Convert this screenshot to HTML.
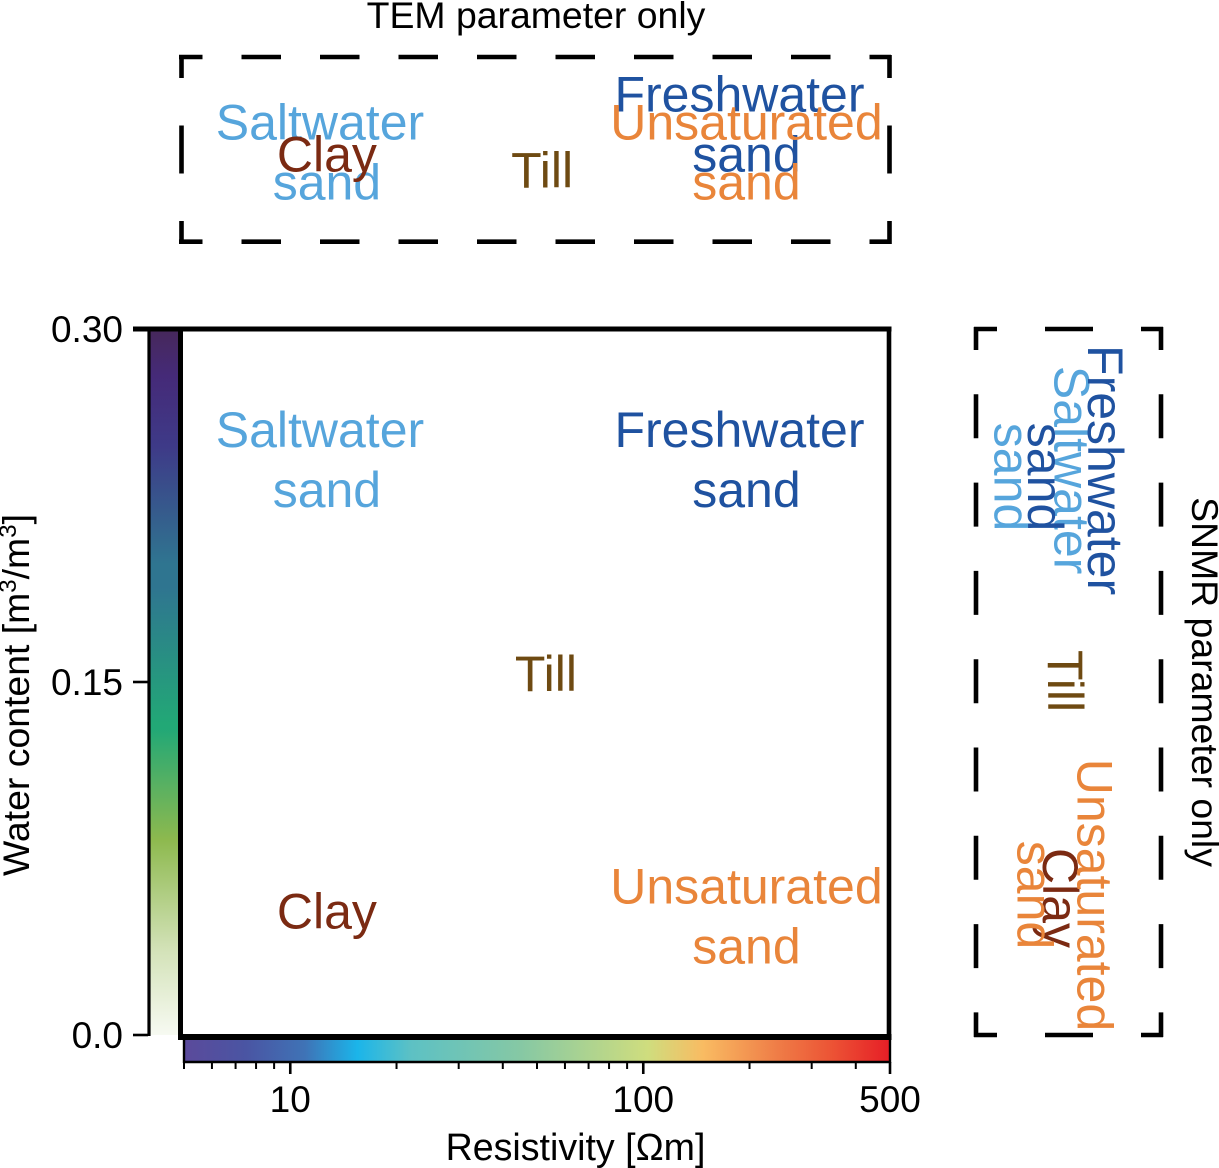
<!DOCTYPE html>
<html>
<head>
<meta charset="utf-8">
<style>
html,body{margin:0;padding:0;background:#fff;}
svg{display:block;}
text{font-family:"Liberation Sans",Arial,sans-serif;white-space:pre;}
</style>
</head>
<body>
<svg id="chart" xmlns="http://www.w3.org/2000/svg" width="1219" height="1168" viewBox="0 0 1219 1168">
  <defs>
    <linearGradient id="resGradient" gradientUnits="userSpaceOnUse"></linearGradient>
    <linearGradient id="waterGradient" gradientUnits="userSpaceOnUse"></linearGradient>
  </defs>
  <rect x="0" y="0" width="1219" height="1168" fill="#fff"/>
  <g id="bars"></g>
  <g id="frame"></g>
  <g id="ticks"></g>
  <g id="labels"></g>
  <g stroke="#000" stroke-width="4.6" fill="none">
    <line x1="179" y1="57" x2="891" y2="57" stroke-dasharray="39.5 39" stroke-dashoffset="16"/>
    <line x1="179" y1="241.7" x2="891" y2="241.7" stroke-dasharray="39.5 39" stroke-dashoffset="16"/>
    <line x1="181.5" y1="55" x2="181.5" y2="244" stroke-dasharray="48 47.5" stroke-dashoffset="25"/>
    <line x1="889.5" y1="55" x2="889.5" y2="244" stroke-dasharray="48 47.5" stroke-dashoffset="25"/>
  </g>
  <g stroke="#000" stroke-width="4.6" fill="none">
    <line x1="974" y1="329" x2="1163" y2="329" stroke-dasharray="48 48" stroke-dashoffset="25"/>
    <line x1="974" y1="1035" x2="1163" y2="1035" stroke-dasharray="48 48" stroke-dashoffset="25"/>
    <line x1="976" y1="327" x2="976" y2="1037" stroke-dasharray="44 44.3" stroke-dashoffset="21"/>
    <line x1="1161" y1="327" x2="1161" y2="1037" stroke-dasharray="44 44.3" stroke-dashoffset="21"/>
  </g>
  <text x="536" y="28" font-size="37.4" text-anchor="middle" fill="#000">TEM parameter only</text>
  <text transform="translate(1192 682) rotate(90)" font-size="37.4" text-anchor="middle" fill="#000">SNMR parameter only</text>
  <text x="575.5" y="1160" font-size="37.6" text-anchor="middle" fill="#000">Resistivity [Ωm]</text>
  <text transform="translate(29 695) rotate(-90)" font-size="37.4" text-anchor="middle" fill="#000">Water content [m<tspan font-size="24" dy="-13">3</tspan><tspan dy="13">/m</tspan><tspan font-size="24" dy="-13">3</tspan><tspan dy="13">]</tspan></text>
</svg>
<script>
// Soil classes and their positions in data space
const categories = ['Saltwater sand', 'Freshwater sand', 'Till', 'Clay', 'Unsaturated sand'];
const lineBreaks = [['Saltwater ', 'sand'], ['Freshwater ', 'sand'], ['Till'], ['Clay'], ['Unsaturated', 'sand']];
const classColors = ['#56a5dc', '#1f52a0', '#6e4a12', '#7b2a12', '#e9853a'];
const resistivity = [12.7, 196, 53, 12.7, 196];
const waterContent = [0.2371, 0.2371, 0.1462, 0.0452, 0.0431];
// Values used in the single-parameter strips
const temResistivity = [12.7, 196, 51.7, 12.7, 196];
const temRow = [0.611, 0.459, 0.708, 0.622, 0.611];
const snmrWater = [0.2371, 0.2371, 0.1504, 0.0582, 0.0595];
const snmrColumn = [0.262, 0.443, 0.389, 0.362, 0.386];
// Axis ticks
const xMajorTicks = [10, 100, 500];
const xMajorLabels = ['10', '100', '500'];
const xMinorTicks = [5, 6, 7, 8, 9, 20, 30, 40, 50, 60, 70, 80, 90, 200, 300, 400];
const yTicks = [0.3, 0.15, 0];
const yTickLabels = ['0.30', '0.15', '0.0'];
// Colour ramps
const resRampValues = [5, 7.5, 11, 15.5, 22, 45, 103, 148, 239, 340, 500];
const resRampColors = ['#5b4a9b', '#4a55a3', '#3f73b6', '#1bb5ea', '#5dc1c4', '#86c8a4', '#cfdd7e', '#f9bb62', '#ef7d47', '#ec5435', '#e61e26'];
const waterRampValues = [0, 0.036, 0.083, 0.13, 0.132, 0.19, 0.2, 0.25, 0.28, 0.3];
const waterRampColors = ['#f7faf2', '#d3e2b8', '#8db94e', '#22a876', '#22a876', '#2f7590', '#2f7590', '#3e3a88', '#452a78', '#46285a'];

const NS = 'http://www.w3.org/2000/svg';
const xLeft = 184, xRight = 890, yTop = 329, yBottom = 1035;
const logMin = Math.log10(5), logMax = Math.log10(500);
function xScale(v) { return xLeft + (Math.log10(v) - logMin) / (logMax - logMin) * (xRight - xLeft); }
function yScale(v) { return yBottom - v / 0.3 * (yBottom - yTop); }
function temY(f) { return 57 + f * 184; }
function snmrX(f) { return 976 + f * 185; }
function make(tag, attrs, parent) {
  const el = document.createElementNS(NS, tag);
  for (const k in attrs) el.setAttribute(k, attrs[k]);
  parent.appendChild(el);
  return el;
}

// gradients
const resGrad = document.getElementById('resGradient');
resGrad.setAttribute('x1', xScale(5));
resGrad.setAttribute('x2', xScale(500));
resGrad.setAttribute('y1', 0);
resGrad.setAttribute('y2', 0);
resRampValues.forEach(function (v, i) {
  make('stop', { offset: (xScale(v) - xScale(5)) / (xScale(500) - xScale(5)), 'stop-color': resRampColors[i] }, resGrad);
});
const waterGrad = document.getElementById('waterGradient');
waterGrad.setAttribute('x1', 0);
waterGrad.setAttribute('x2', 0);
waterGrad.setAttribute('y1', yScale(0));
waterGrad.setAttribute('y2', yScale(0.3));
waterRampValues.forEach(function (v, i) {
  make('stop', { offset: v / 0.3, 'stop-color': waterRampColors[i] }, waterGrad);
});

// colour bars
const barsG = document.getElementById('bars');
const resBar = make('rect', { x: xScale(5), y: 1038, width: xScale(500) - xScale(5), height: 24, fill: 'url(#resGradient)' }, barsG);


const waterBar = make('rect', { x: 148, y: yScale(0.3), width: 33, height: yScale(0) - yScale(0.3), fill: 'url(#waterGradient)' }, barsG);



// frame
const frameG = document.getElementById('frame');
const frameParts = [
  ['plot-top-spine', 133, 329, 891.5, 329, 5],
  ['plot-right-spine', 889, 327, 889, 1040, 4.6],
  ['plot-left-spine', 180.5, 327, 180.5, 1040, 5],
  ['plot-bottom-spine', 178, 1037, 891.5, 1037, 6],
  ['water-bar-left-edge', 149, 329, 149, 1036, 3.2],
  ['res-bar-left-edge', 184, 1038, 184, 1063, 2.4],
  ['res-bar-right-edge', 890, 1038, 890, 1063, 2.4],
  ['res-bar-bottom-edge', 183, 1062, 891, 1062, 2.4]
];
frameParts.forEach(function (p) {
  const l = make('line', { x1: p[1], y1: p[2], x2: p[3], y2: p[4], stroke: '#000', 'stroke-width': p[5] }, frameG);
  
  
});

// ticks
const ticksG = document.getElementById('ticks');
xMajorTicks.forEach(function (v, i) {
  const t = make('line', { x1: xScale(v), x2: xScale(v), y1: 1062, y2: 1074, stroke: '#000', 'stroke-width': 2.6 }, ticksG);
  
  
  const lab = make('text', { x: xScale(v), y: 1112, 'font-size': 37, 'text-anchor': 'middle', fill: '#000' }, ticksG);
  lab.textContent = xMajorLabels[i];
  
  
});
xMinorTicks.forEach(function (v) {
  const t = make('line', { x1: xScale(v), x2: xScale(v), y1: 1062, y2: 1069, stroke: '#000', 'stroke-width': 2 }, ticksG);
  
  
});
yTicks.forEach(function (v, i) {
  const t = make('line', { x1: 133, x2: 148, y1: yScale(v), y2: yScale(v), stroke: '#000', 'stroke-width': 2.6 }, ticksG);
  
  
  const lab = make('text', { x: 123, y: yScale(v) + 13, 'font-size': 37, 'text-anchor': 'end', fill: '#000' }, ticksG);
  lab.textContent = yTickLabels[i];
  
  
});

// class labels
const labelsG = document.getElementById('labels');
function slug(s) { return s.toLowerCase().replace(/ /g, '-'); }
const lineGap = 60;
function drawLabel(i, x, y, rotated, suffix) {
  const lines = lineBreaks[i];
  lines.forEach(function (line, j) {
    const off = (j - (lines.length - 1) / 2) * lineGap;
    const attrs = { 'font-size': 50, 'text-anchor': 'middle', fill: classColors[i] };
    if (rotated) attrs.transform = 'translate(' + (x - off) + ' ' + y + ') rotate(90)';
    else { attrs.x = x; attrs.y = y + off; }
    const t = make('text', attrs, labelsG);
    t.textContent = line;
    
    
  });
}
categories.forEach(function (c, i) {
  drawLabel(i, xScale(resistivity[i]), yScale(waterContent[i]), false, '-label');
  drawLabel(i, xScale(temResistivity[i]), temY(temRow[i]), false, '-tem-label');
  drawLabel(i, snmrX(snmrColumn[i]), yScale(snmrWater[i]), true, '-snmr-label');
});
</script>
</body>
</html>
